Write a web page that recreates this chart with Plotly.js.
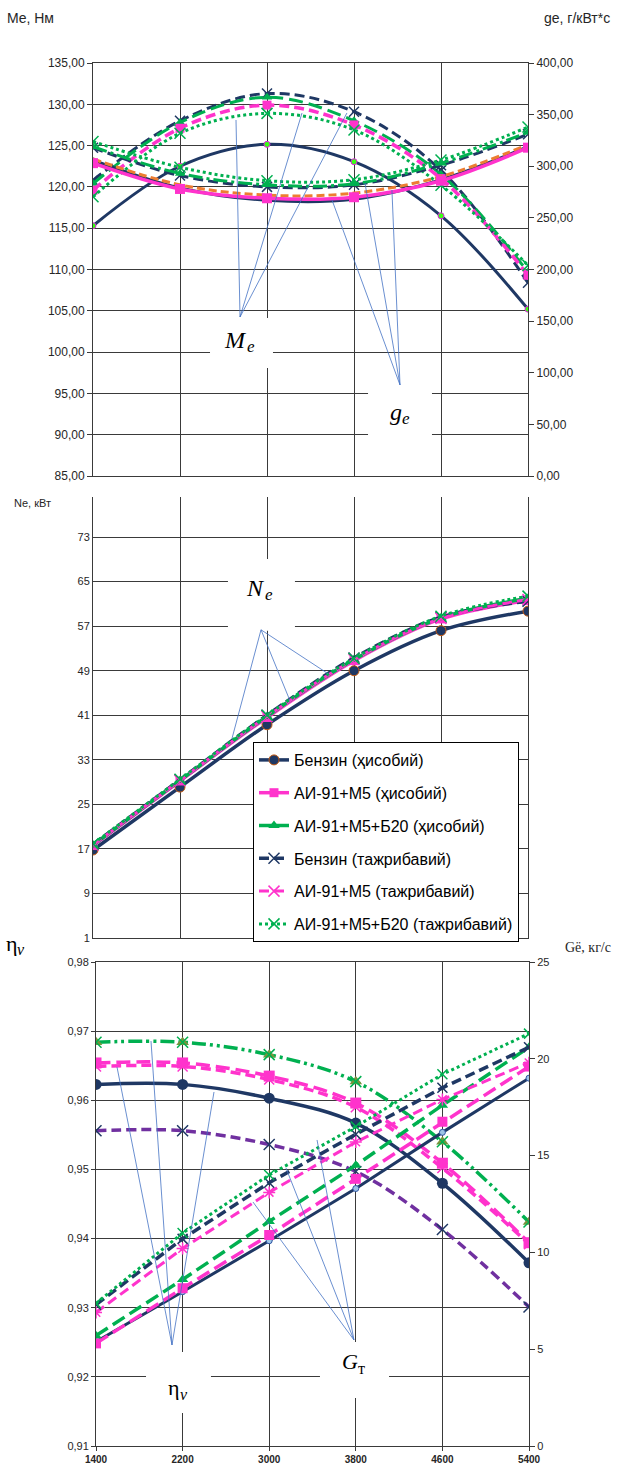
<!DOCTYPE html>
<html>
<head>
<meta charset="utf-8">
<script src="https://cdn.plot.ly/plotly-3.0.1.min.js"></script>
<style>
  html, body { margin: 0; padding: 0; background: #fff; }
  #chart { width: 619px; height: 1465px; }
</style>
</head>
<body>
<div id="chart"></div>
<script>
// Crankshaft speed, rpm
const rpm = [1400, 2200, 3000, 3800, 4600, 5400];
const rpmLabels = ['1400', '2200', '3000', '3800', '4600', '5400'];

const seriesNames = [
  'Бензин (ҳисобий)',
  'АИ-91+М5 (ҳисобий)',
  'АИ-91+М5+Б20 (ҳисобий)',
  'Бензин (тажрибавий)',
  'АИ-91+М5 (тажрибавий)',
  'АИ-91+М5+Б20 (тажрибавий)'
];

// Effective torque Me, N·m
const meBenzinCalc = [115.3, 122.5, 125.15, 123.05, 116.5, 105.2];
const meBenzinExp  = [120.8, 128.0, 131.3, 129.1, 122.0, 108.4];
const meB20Calc    = [120.4, 127.8, 130.85, 128.0, 121.5, 109.7];
const meM5         = [119.6, 127.1, 129.9, 127.5, 121.0, 109.3];
const meB20Exp     = [118.8, 126.5, 128.9, 126.9, 120.2, 110.5];

// Specific fuel consumption ge, g/kW·h
const geBenzinCalc = [306, 279, 267, 268, 287, 319];
const geBenzinExp  = [318, 291, 280, 282, 301, 331];
const geB20Calc    = [319, 293, 282, 283, 303, 333];
const geB20Exp     = [324, 299, 286, 287, 306, 338];
const geM5Calc     = [303, 278, 269, 270, 286, 318];
const geM5Exp      = [307, 282, 272, 274, 290, 321];

// Effective power Ne, kW
const neBenzinCalc = [16.8, 28.1, 39.3, 49.0, 56.2, 59.7];
const neM5Calc     = [17.6, 29.2, 40.6, 50.8, 58.3, 61.6];
const neB20Calc    = [17.7, 29.3, 40.8, 51.0, 58.5, 62.0];
const neBenzinExp  = [17.8, 29.4, 41.0, 51.3, 58.6, 61.5];
const neM5Exp      = [17.7, 29.3, 40.8, 51.0, 58.4, 61.8];
const neB20Exp     = [17.9, 29.5, 41.0, 51.2, 58.8, 62.4];

// Volumetric efficiency ηv
const etaB20       = [0.9684, 0.9684, 0.9666, 0.9627, 0.9540, 0.9424];
const etaM5Calc    = [0.9654, 0.9654, 0.9635, 0.9596, 0.9509, 0.9394];
const etaM5Exp     = [0.9649, 0.9649, 0.9630, 0.9590, 0.9502, 0.9392];
const etaBenzin    = [0.9623, 0.9623, 0.9603, 0.9567, 0.9480, 0.9365];
const etaBenzinExp = [0.9556, 0.9556, 0.9536, 0.9497, 0.9413, 0.9301];

// Hourly fuel consumption Gт, kg/h
const gtBenzinCalc = [5.39, 7.97, 10.6, 13.3, 16.2, 19.0];
const gtM5Calc     = [5.3, 8.15, 10.9, 13.8, 16.75, 19.6];
const gtB20Calc    = [5.7, 8.6, 11.6, 14.5, 17.6, 20.6];
const gtM5Exp      = [6.9, 10.2, 13.1, 15.7, 17.9, 19.8];
const gtBenzinExp  = [7.3, 10.7, 13.6, 16.1, 18.5, 20.6];
const gtB20Exp     = [7.37, 11.0, 14.0, 16.5, 19.2, 21.3];

// Palette
const NAVY = '#1F3864';
const PINK = '#FF33CC';
const GREEN = '#00B050';
const ORANGE = '#ED7D31';
const PURPLE = '#7030A0';
const OLIVE = '#77933C';
const LIGHTBLUE = '#9DC3E6';
const CALLOUT = '#4472C4';
const GRID = '#3a3a3a';

const SANS = 'Liberation Sans, Arial, sans-serif';
const SERIF = 'Liberation Serif, Times New Roman, serif';

const DASH = '10px,5px';
const LONGDASH = '14px,6px';
const DOT = '3px,3px';
const DASHDOT = '14px,4px,3px,4px';
const DASHDOTDOT = '14px,4px,3px,4px,3px,4px';

function tr(y, xa, ya, color, width, dash, shape, marker, extra) {
  return Object.assign({
    type: 'scatter', mode: marker ? 'lines+markers' : 'lines',
    x: rpm, y: y, xaxis: xa, yaxis: ya,
    line: { color: color, width: width, dash: dash, shape: shape, smoothing: 1 },
    marker: marker || {}, showlegend: false, hoverinfo: 'skip'
  }, extra || {});
}
const xMark = (c, s) => ({ symbol: 'x-thin', size: s || 10, color: c, line: { width: 1.5, color: c } });

const traces = [
  // ---- top panel: torque (left axis) and specific consumption (right axis)
  tr(geBenzinCalc, 'x', 'y2', NAVY, 3, 'solid', 'spline', { symbol: 'circle', size: 5, color: NAVY }),
  tr(geM5Exp, 'x', 'y2', ORANGE, 3, '8px,4px', 'spline', null),
  tr(geM5Calc, 'x', 'y2', PINK, 3.5, 'solid', 'spline', { symbol: 'square', size: 10, color: PINK }),
  tr(geBenzinExp, 'x', 'y2', NAVY, 3, DASH, 'spline', xMark(NAVY)),
  tr(geB20Calc, 'x', 'y2', GREEN, 3, DASHDOT, 'spline', { symbol: 'triangle-up', size: 9, color: GREEN }),
  tr(geB20Exp, 'x', 'y2', GREEN, 3, DOT, 'spline', xMark(GREEN, 11)),
  tr(meBenzinCalc, 'x', 'y', NAVY, 3, 'solid', 'spline', { symbol: 'circle', size: 6, color: '#39FF14', line: { width: 1, color: '#E020E0' } }),
  tr(meBenzinExp, 'x', 'y', NAVY, 3, DASH, 'spline', xMark(NAVY)),
  tr(meB20Calc, 'x', 'y', GREEN, 3, LONGDASH, 'spline', { symbol: 'triangle-up', size: 9, color: GREEN }),
  tr(meM5, 'x', 'y', PINK, 3.5, DASH, 'spline', { symbol: 'square', size: 9, color: PINK }),
  tr(meB20Exp, 'x', 'y', GREEN, 3, DOT, 'spline', xMark(GREEN, 11)),

  // ---- middle panel: effective power, carries the legend
  tr(neBenzinCalc, 'x2', 'y3', NAVY, 3.5, 'solid', 'spline',
     { symbol: 'circle', size: 10, color: NAVY, line: { width: 1, color: '#C55A11' } },
     { name: seriesNames[0], showlegend: true, legendgroup: 'g0' }),
  tr(neM5Calc, 'x2', 'y3', PINK, 3.5, 'solid', 'spline',
     { symbol: 'square', size: 9, color: PINK },
     { name: seriesNames[1], showlegend: true, legendgroup: 'g1' }),
  tr(neB20Calc, 'x2', 'y3', GREEN, 3.5, 'solid', 'spline',
     { symbol: 'triangle-up', size: 10, color: GREEN },
     { name: seriesNames[2], showlegend: true, legendgroup: 'g2' }),
  tr(neBenzinExp, 'x2', 'y3', NAVY, 3.5, DASH, 'spline', xMark(NAVY, 11),
     { name: seriesNames[3], showlegend: true, legendgroup: 'g3' }),
  tr(neM5Exp, 'x2', 'y3', PINK, 3, DASH, 'spline', xMark(PINK, 11),
     { name: seriesNames[4], showlegend: true, legendgroup: 'g4' }),
  tr(neB20Exp, 'x2', 'y3', GREEN, 3, DOT, 'spline', xMark(GREEN, 11),
     { name: seriesNames[5], showlegend: true, legendgroup: 'g5' }),

  // ---- bottom panel: hourly consumption (right axis)
  tr(gtBenzinCalc, 'x3', 'y5', NAVY, 3, 'solid', 'linear',
     { symbol: 'circle', size: 6, color: LIGHTBLUE, line: { width: 1, color: '#2F55A4' } }),
  tr(gtM5Calc, 'x3', 'y5', PINK, 3.5, LONGDASH, 'linear', { symbol: 'square', size: 10, color: PINK }),
  tr(gtB20Calc, 'x3', 'y5', GREEN, 3.5, LONGDASH, 'linear', { symbol: 'triangle-up', size: 10, color: GREEN }),
  tr(gtM5Exp, 'x3', 'y5', PINK, 3, DASH, 'linear', { symbol: 'asterisk-open', size: 10, color: PINK, line: { width: 1.5, color: PINK } }),
  tr(gtBenzinExp, 'x3', 'y5', NAVY, 3.5, DASH, 'linear', xMark(NAVY)),
  tr(gtB20Exp, 'x3', 'y5', GREEN, 3, DOT, 'linear', xMark(GREEN)),

  // ---- bottom panel: volumetric efficiency (left axis)
  tr(etaBenzinExp, 'x3', 'y4', PURPLE, 3.5, DASH, 'spline', xMark(NAVY, 11)),
  tr(etaBenzin, 'x3', 'y4', NAVY, 3.5, 'solid', 'spline', { symbol: 'circle', size: 11, color: NAVY }),
  tr(etaM5Exp, 'x3', 'y4', PINK, 3.5, DASH, 'spline', xMark(PINK)),
  tr(etaM5Calc, 'x3', 'y4', PINK, 3.5, LONGDASH, 'spline', { symbol: 'square', size: 11, color: PINK }),
  tr(etaB20, 'x3', 'y4', GREEN, 3.5, DASHDOTDOT, 'spline', { symbol: 'triangle-up', size: 11, color: OLIVE }),
  tr(etaB20, 'x3', 'y4', GREEN, 0, 'solid', 'spline', xMark(GREEN, 11), { mode: 'markers' })
];

const W = 619, H = 1465;
const xTop = [93 / W, 528 / W];
const xBot = [96 / W, 529 / W];
const yDomTop = [1 - 476 / H, 1 - 63 / H];
const yDomMid = [1 - 938 / H, 1 - 497 / H];
const yDomBot = [1 - 1446 / H, 1 - 962 / H];

const baseX = {
  range: [1400, 5400], tick0: 1400, dtick: 800, showgrid: true, gridcolor: GRID, gridwidth: 1,
  zeroline: false, showline: true, linecolor: GRID, linewidth: 1, fixedrange: true
};
const baseY = {
  showgrid: true, gridcolor: GRID, gridwidth: 1, zeroline: false, showline: true,
  linecolor: GRID, linewidth: 1, fixedrange: true
};

const layout = {
  width: W, height: H,
  margin: { l: 0, r: 0, t: 0, b: 0 },
  paper_bgcolor: '#fff', plot_bgcolor: '#fff',
  separators: ', ',
  font: { family: SANS, size: 12, color: '#262626' },
  showlegend: true,
  legend: {
    x: 253 / W, y: 1 - 742 / H, xanchor: 'left', yanchor: 'top',
    bgcolor: '#fff', bordercolor: '#000', borderwidth: 1,
    font: { family: SANS, size: 16, color: '#000' },
    tracegroupgap: 9, traceorder: 'grouped'
  },

  xaxis: Object.assign({}, baseX, { domain: xTop, anchor: 'y', showticklabels: false, mirror: true, ticks: '' }),
  yaxis: Object.assign({}, baseY, {
    domain: yDomTop, anchor: 'x', range: [85, 135], tick0: 85, dtick: 5, tickformat: '.2f',
    ticks: 'outside', ticklen: 5, tickcolor: GRID, tickfont: { size: 12, color: '#262626' }
  }),
  yaxis2: {
    overlaying: 'y', side: 'right', anchor: 'x', range: [0, 400], tick0: 0, dtick: 50, tickformat: '.2f',
    showgrid: false, zeroline: false, showline: true, linecolor: GRID, ticks: 'outside', ticklen: 5,
    tickcolor: GRID, tickfont: { size: 12, color: '#262626' }, fixedrange: true
  },

  xaxis2: Object.assign({}, baseX, { domain: xTop, anchor: 'y3', showticklabels: false, ticks: '' }),
  yaxis3: Object.assign({}, baseY, {
    domain: yDomMid, anchor: 'x2', range: [1, 80.2], tick0: 1, dtick: 8, mirror: true,
    ticks: '', tickfont: { size: 11, color: '#262626' }
  }),

  xaxis3: Object.assign({}, baseX, {
    domain: xBot, anchor: 'y4', mirror: true, tickvals: rpm, ticktext: rpmLabels,
    ticks: 'outside', ticklen: 4, tickcolor: GRID,
    tickfont: { size: 10, color: '#262626', weight: 'bold' }
  }),
  yaxis4: Object.assign({}, baseY, {
    domain: yDomBot, anchor: 'x3', range: [0.91, 0.98], tick0: 0.91, dtick: 0.01, tickformat: '.2f',
    ticks: 'outside', ticklen: 4, tickcolor: GRID, tickfont: { size: 11, color: '#262626' }
  }),
  yaxis5: {
    overlaying: 'y4', side: 'right', anchor: 'x3', range: [0, 25], tick0: 0, dtick: 5,
    showgrid: false, zeroline: false, showline: true, linecolor: GRID, ticks: 'outside', ticklen: 5,
    tickcolor: GRID, tickfont: { size: 11, color: '#262626' }, fixedrange: true
  },

  shapes: [],
  annotations: []
};

// White label plates that break the grid under the curve labels
function plate(xa, ya, x0, x1, y0, y1) {
  layout.shapes.push({ type: 'rect', xref: xa, yref: ya, x0: x0, x1: x1, y0: y0, y1: y1,
    fillcolor: '#fff', line: { width: 0 }, layer: 'above' });
}
function callouts(xa, ya, from, ends) {
  ends.forEach(e => layout.shapes.push({
    type: 'line', xref: xa, yref: ya, x0: from[0], y0: from[1], x1: e[0], y1: e[1],
    line: { color: CALLOUT, width: 0.8 }, layer: 'above'
  }));
}
// Symbol with a lowered index, drawn as two pieces of text meeting at x (+shift)
function label(xa, ya, x, y, main, sub, size, shift) {
  const font = { family: SERIF, size: size, color: '#000' };
  const subFont = { family: SERIF, size: Math.round(size * 0.72), color: '#000' };
  layout.annotations.push({ xref: xa, yref: ya, x: x, y: y, text: main, showarrow: false,
    xanchor: 'right', yanchor: 'middle', xshift: shift, font: font, borderpad: 0, borderwidth: 0 });
  layout.annotations.push({ xref: xa, yref: ya, x: x, y: y, text: sub, showarrow: false,
    xanchor: 'left', yanchor: 'middle', xshift: shift, yshift: -Math.round(size * 0.3),
    font: subFont, borderpad: 0, borderwidth: 0 });
}

plate('x', 'y', 2476, 3055, 98.08, 104.13);
plate('x', 'y', 3929, 4517, 89.36, 95.77);
plate('x2', 'y3', 2641, 3257, 56.17, 69.06);
plate('x3', 'y4', 1862, 2462, 0.91477, 0.92359);
plate('x3', 'y4', 3469, 4107, 0.91694, 0.92504);

callouts('x', 'y', [2752, 104.25], [[2715, 128.1], [3322, 128.95], [3735, 128.95]]);
callouts('x', 'y', [4223, 96.02], [[3598, 118.41], [3901, 120.47], [4149, 119.62]]);
callouts('x2', 'y3', [2945, 56.35], [[2678, 36.82], [3211, 43.63], [3561, 48.47]]);
callouts('x3', 'y4', [2102, 0.92461], [[1594, 0.96481], [1908, 0.96857], [2490, 0.96120]]);
callouts('x3', 'y4', [3783, 0.92533], [[2850, 0.94529], [3155, 0.95021], [3442, 0.95426]]);

label('x', 'y', 2761, 101.5, '<i>M</i>', '<i>e</i>', 24, 6);
label('x', 'y', 4223, 92.75, '<i>g</i>', '<i>e</i>', 24, 2);
label('x2', 'y3', 2945, 63.87, '<i>N</i>', '<i>e</i>', 24, 4);
label('x3', 'y4', 2157, 0.91853, 'η', '<i>v</i>', 22, 2);
label('x3', 'y4', 3783, 0.92215, '<i>G</i>', 'т', 22, 4);

// Axis captions
const cap = (x, y, xanchor, text, font, yshift) => layout.annotations.push({
  xref: 'paper', yref: 'paper', x: x, y: y, xanchor: xanchor, yanchor: 'middle',
  text: text, showarrow: false, font: font, yshift: yshift || 0
});
cap(5 / W, 1 - 18 / H, 'left', 'Me, Нм', { family: SANS, size: 14, color: '#262626' });
cap(612 / W, 1 - 18 / H, 'right', 'ge, г/кВт*с', { family: SANS, size: 14, color: '#262626' });
cap(12 / W, 1 - 503 / H, 'left', 'Ne, кВт', { family: SANS, size: 11, color: '#262626' });
cap(4 / W, 1 - 943 / H, 'left', 'η', { family: SERIF, size: 22, color: '#000' });
cap(15 / W, 1 - 943 / H, 'left', '<i>v</i>', { family: SERIF, size: 16, color: '#000' }, -6);
cap(613 / W, 1 - 948 / H, 'right', 'Gё, кг/с', { family: SERIF, size: 14, color: '#262626' });

Plotly.newPlot('chart', traces, layout, { staticPlot: true, displayModeBar: false });
</script>
</body>
</html>
